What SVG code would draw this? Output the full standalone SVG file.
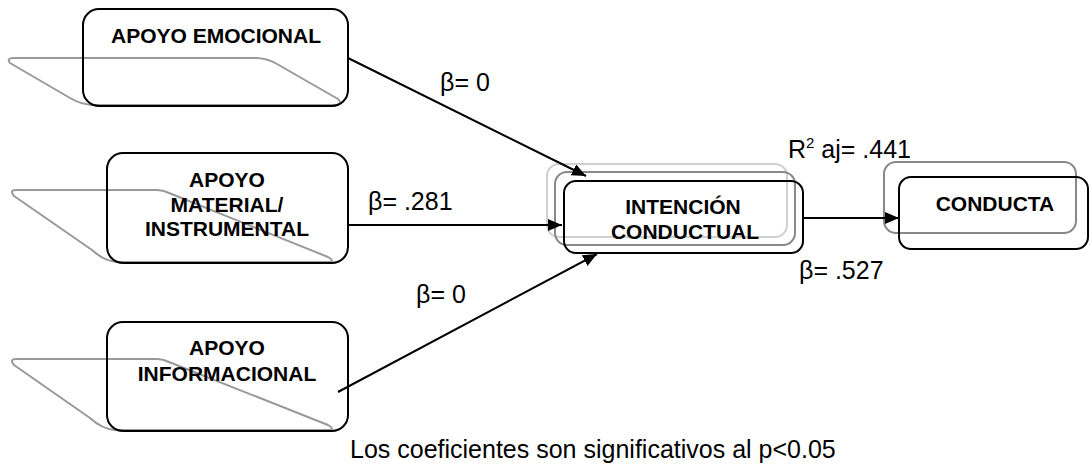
<svg xmlns="http://www.w3.org/2000/svg" width="1090" height="472" viewBox="0 0 1090 472">
<style>
.box{fill:none;stroke:#000;stroke-width:2}
.shadow{fill:none;stroke:#999;stroke-width:2;stroke-linejoin:round}
.g1{fill:none;stroke:#888;stroke-width:2}
.g2{fill:none;stroke:#d0d0d0;stroke-width:2}
.nt{font-family:"Liberation Sans",Arial,sans-serif;font-weight:bold;font-size:21px;fill:#000;text-anchor:middle}
.lb{font-family:"Liberation Sans",Arial,sans-serif;font-size:25px;fill:#000}
.conn{stroke:#000;stroke-width:2;fill:none}
</style>
<defs>
<marker id="ah" markerUnits="userSpaceOnUse" markerWidth="16" markerHeight="14" refX="14" refY="6" orient="auto">
<path d="M0,0 L14,6 L0,12 Z" fill="#000"/>
</marker>
</defs>
<rect width="1090" height="472" fill="#fff"/>

<g id="apoyo-emocional">
<path class="shadow" d="M14,58 L255,58 Q267,58 277,64 L338,99 Q343,104 336,105 L92,105 Q80,104 70,98 L10,63 Q6,58 14,58 Z"/>
<rect class="box" x="83" y="9" width="265" height="97" rx="16"/>
<text class="nt" x="216" y="43">APOYO EMOCIONAL</text>
</g>

<g id="apoyo-material">
<path class="shadow" d="M16,190 L157,190 Q163,190 169,193 L328,257 Q336,262 328,262 L117,262 Q104,261 92,250 L14,196 Q9,190 16,190 Z"/>
<rect class="box" x="107" y="153" width="241" height="110" rx="16"/>
<text class="nt" x="227" y="187">APOYO</text>
<text class="nt" x="227" y="212">MATERIAL/</text>
<text class="nt" x="227" y="236">INSTRUMENTAL</text>
</g>

<g id="apoyo-informacional">
<path class="shadow" d="M16,359 L157,359 Q163,359 169,362 L328,425 Q336,430 328,430 L115,430 Q102,429 90,418 L14,365 Q9,359 16,359 Z"/>
<rect class="box" x="107" y="322" width="241" height="109" rx="16"/>
<text class="nt" x="227" y="355">APOYO</text>
<text class="nt" x="227" y="381">INFORMACIONAL</text>
</g>

<g id="intencion-conductual">
<rect class="g2" x="547" y="164" width="240" height="73" rx="12"/>
<rect class="g1" x="555" y="172" width="240" height="73" rx="12"/>
<rect class="box" x="564" y="181" width="239" height="72" rx="12"/>
<text class="nt" x="683" y="214">INTENCIÓN</text>
<text class="nt" x="685" y="239">CONDUCTUAL</text>
</g>

<g id="conducta">
<rect class="g1" x="884" y="162" width="192" height="71" rx="12"/>
<rect class="box" x="899" y="177" width="189" height="72" rx="12"/>
<text class="nt" x="995" y="211">CONDUCTA</text>
</g>

<g id="connectors">
<line class="conn" x1="348" y1="58" x2="586" y2="176" marker-end="url(#ah)"/>
<line class="conn" x1="347" y1="225" x2="562" y2="225" marker-end="url(#ah)"/>
<line class="conn" x1="338" y1="392" x2="597" y2="254" marker-end="url(#ah)"/>
<line class="conn" x1="803" y1="218" x2="899" y2="218" marker-end="url(#ah)"/>
</g>

<g id="labels">
<text class="lb" x="440" y="91">β= 0</text>
<text class="lb" x="368" y="210">β= .281</text>
<text class="lb" x="416" y="303">β= 0</text>
<text class="lb" x="788" y="158">R<tspan font-size="15" dy="-10">2</tspan><tspan dy="10"> aj= .441</tspan></text>
<text class="lb" x="799" y="279">β= .527</text>
<text class="lb" x="350" y="458">Los coeficientes son significativos al p&lt;0.05</text>
</g>
</svg>
